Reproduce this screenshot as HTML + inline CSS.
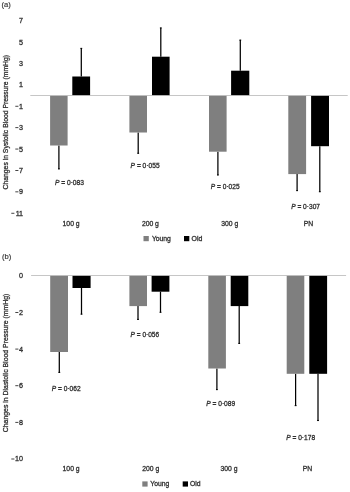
<!DOCTYPE html>
<html><head><meta charset="utf-8"><title>Figure</title>
<style>
html,body{margin:0;padding:0;background:#fff;}
body{width:350px;height:492px;overflow:hidden;}
svg{display:block;filter:grayscale(1);font-family:"Liberation Sans",sans-serif;}
text{stroke:#303030;stroke-width:0.3px;paint-order:stroke fill;}
</style></head><body>
<svg width="350" height="492" viewBox="0 0 350 492">
<rect width="350" height="492" fill="#ffffff"/>
<rect x="30.3" y="95.0" width="317.4" height="1" fill="#c6c6c6"/>
<text x="1.60" y="6.60" font-size="7.6" text-anchor="start" fill="#333" style="stroke-width:0.15px">(a)</text>
<text x="23.10" y="23.10" font-size="7.2" text-anchor="end" fill="#303030" >7</text>
<text x="23.10" y="44.50" font-size="7.2" text-anchor="end" fill="#303030" >5</text>
<text x="23.10" y="65.90" font-size="7.2" text-anchor="end" fill="#303030" >3</text>
<text x="23.10" y="87.30" font-size="7.2" text-anchor="end" fill="#303030" >1</text>
<text x="23.10" y="108.70" font-size="7.2" text-anchor="end" fill="#303030" >1</text>
<rect x="15.30" y="105.80" width="3.1" height="0.9" fill="#303030"/>
<text x="23.10" y="130.10" font-size="7.2" text-anchor="end" fill="#303030" >3</text>
<rect x="15.30" y="127.20" width="3.1" height="0.9" fill="#303030"/>
<text x="23.10" y="151.50" font-size="7.2" text-anchor="end" fill="#303030" >5</text>
<rect x="15.30" y="148.60" width="3.1" height="0.9" fill="#303030"/>
<text x="23.10" y="172.90" font-size="7.2" text-anchor="end" fill="#303030" >7</text>
<rect x="15.30" y="170.00" width="3.1" height="0.9" fill="#303030"/>
<text x="23.10" y="194.30" font-size="7.2" text-anchor="end" fill="#303030" >9</text>
<rect x="15.30" y="191.40" width="3.1" height="0.9" fill="#303030"/>
<text x="23.10" y="215.70" font-size="7.2" text-anchor="end" fill="#303030" >11</text>
<rect x="11.29" y="212.80" width="3.1" height="0.9" fill="#303030"/>
<line x1="58.90" y1="145.50" x2="58.90" y2="168.90" stroke="#000" stroke-width="1.25"/><rect x="58.00" y="168.35" width="1.8" height="1.1" fill="#000"/>
<line x1="81.30" y1="76.50" x2="81.30" y2="48.40" stroke="#000" stroke-width="1.25"/><rect x="80.40" y="47.85" width="1.8" height="1.1" fill="#000"/>
<rect x="50.10" y="95.90" width="17.50" height="49.60" fill="#7f7f7f"/>
<rect x="72.30" y="76.50" width="17.80" height="18.60" fill="#000"/>
<line x1="138.20" y1="132.50" x2="138.20" y2="153.30" stroke="#000" stroke-width="1.25"/><rect x="137.30" y="152.75" width="1.8" height="1.1" fill="#000"/>
<line x1="160.80" y1="56.70" x2="160.80" y2="27.90" stroke="#000" stroke-width="1.25"/><rect x="159.90" y="27.35" width="1.8" height="1.1" fill="#000"/>
<rect x="129.40" y="95.90" width="17.60" height="36.60" fill="#7f7f7f"/>
<rect x="152.00" y="56.70" width="17.60" height="38.40" fill="#000"/>
<line x1="217.90" y1="151.70" x2="217.90" y2="175.00" stroke="#000" stroke-width="1.25"/><rect x="217.00" y="174.45" width="1.8" height="1.1" fill="#000"/>
<line x1="240.30" y1="70.70" x2="240.30" y2="40.10" stroke="#000" stroke-width="1.25"/><rect x="239.40" y="39.55" width="1.8" height="1.1" fill="#000"/>
<rect x="209.00" y="95.90" width="17.60" height="55.80" fill="#7f7f7f"/>
<rect x="231.10" y="70.70" width="18.20" height="24.40" fill="#000"/>
<line x1="297.10" y1="174.10" x2="297.10" y2="190.60" stroke="#000" stroke-width="1.25"/><rect x="296.20" y="190.05" width="1.8" height="1.1" fill="#000"/>
<line x1="319.80" y1="146.20" x2="319.80" y2="191.70" stroke="#000" stroke-width="1.25"/><rect x="318.90" y="191.15" width="1.8" height="1.1" fill="#000"/>
<rect x="288.30" y="95.90" width="17.80" height="78.20" fill="#7f7f7f"/>
<rect x="311.10" y="95.90" width="17.90" height="50.30" fill="#000"/>
<text x="54.90" y="184.85" font-size="6.9" fill="#303030" textLength="29.10" lengthAdjust="spacingAndGlyphs"><tspan font-style="italic">P</tspan> = 0·083</text>
<text x="130.60" y="168.10" font-size="6.9" fill="#303030" textLength="29.00" lengthAdjust="spacingAndGlyphs"><tspan font-style="italic">P</tspan> = 0·055</text>
<text x="210.80" y="189.05" font-size="6.9" fill="#303030" textLength="28.80" lengthAdjust="spacingAndGlyphs"><tspan font-style="italic">P</tspan> = 0·025</text>
<text x="291.20" y="208.70" font-size="6.9" fill="#303030" textLength="28.80" lengthAdjust="spacingAndGlyphs"><tspan font-style="italic">P</tspan> = 0·307</text>
<text x="71.10" y="226.30" font-size="6.8" text-anchor="middle" fill="#303030" >100 g</text>
<text x="150.40" y="226.30" font-size="6.8" text-anchor="middle" fill="#303030" >200 g</text>
<text x="229.70" y="226.30" font-size="6.8" text-anchor="middle" fill="#303030" >300 g</text>
<text x="308.50" y="226.30" font-size="6.8" text-anchor="middle" fill="#303030" >PN</text>
<rect x="143.5" y="236.0" width="5.3" height="5.2" fill="#7f7f7f"/>
<text x="151.90" y="241.10" font-size="6.9" text-anchor="start" fill="#303030" textLength="19.0" lengthAdjust="spacingAndGlyphs">Young</text>
<rect x="184.0" y="236.0" width="5.3" height="5.2" fill="#000"/>
<text x="191.50" y="241.10" font-size="6.9" text-anchor="start" fill="#303030" textLength="10.8" lengthAdjust="spacingAndGlyphs">Old</text>
<text transform="translate(8.3,189.4) rotate(-90)" font-size="7.5" fill="#303030" textLength="134.4" lengthAdjust="spacingAndGlyphs">Changes in Systolic Blood Pressure (mmHg)</text>
<rect x="31.1" y="275.0" width="315.0" height="1" fill="#c6c6c6"/>
<text x="1.90" y="258.70" font-size="7.6" text-anchor="start" fill="#333" style="stroke-width:0.15px">(b)</text>
<text x="23.10" y="278.25" font-size="7.2" text-anchor="end" fill="#303030" >0</text>
<text x="23.10" y="314.89" font-size="7.2" text-anchor="end" fill="#303030" >2</text>
<rect x="15.30" y="311.99" width="3.1" height="0.9" fill="#303030"/>
<text x="23.10" y="351.53" font-size="7.2" text-anchor="end" fill="#303030" >4</text>
<rect x="15.30" y="348.63" width="3.1" height="0.9" fill="#303030"/>
<text x="23.10" y="388.17" font-size="7.2" text-anchor="end" fill="#303030" >6</text>
<rect x="15.30" y="385.27" width="3.1" height="0.9" fill="#303030"/>
<text x="23.10" y="424.81" font-size="7.2" text-anchor="end" fill="#303030" >8</text>
<rect x="15.30" y="421.91" width="3.1" height="0.9" fill="#303030"/>
<text x="23.10" y="461.45" font-size="7.2" text-anchor="end" fill="#303030" >10</text>
<rect x="11.29" y="458.55" width="3.1" height="0.9" fill="#303030"/>
<line x1="59.30" y1="352.00" x2="59.30" y2="372.40" stroke="#000" stroke-width="1.25"/><rect x="58.40" y="371.85" width="1.8" height="1.1" fill="#000"/>
<line x1="81.50" y1="288.00" x2="81.50" y2="314.20" stroke="#000" stroke-width="1.25"/><rect x="80.60" y="313.65" width="1.8" height="1.1" fill="#000"/>
<rect x="50.20" y="275.90" width="17.80" height="76.10" fill="#7f7f7f"/>
<rect x="72.50" y="275.90" width="18.10" height="12.10" fill="#000"/>
<line x1="138.00" y1="306.10" x2="138.00" y2="319.40" stroke="#000" stroke-width="1.25"/><rect x="137.10" y="318.85" width="1.8" height="1.1" fill="#000"/>
<line x1="160.50" y1="291.70" x2="160.50" y2="312.30" stroke="#000" stroke-width="1.25"/><rect x="159.60" y="311.75" width="1.8" height="1.1" fill="#000"/>
<rect x="129.40" y="275.90" width="17.60" height="30.20" fill="#7f7f7f"/>
<rect x="151.60" y="275.90" width="17.80" height="15.80" fill="#000"/>
<line x1="216.90" y1="368.50" x2="216.90" y2="389.60" stroke="#000" stroke-width="1.25"/><rect x="216.00" y="389.05" width="1.8" height="1.1" fill="#000"/>
<line x1="239.20" y1="306.10" x2="239.20" y2="343.40" stroke="#000" stroke-width="1.25"/><rect x="238.30" y="342.85" width="1.8" height="1.1" fill="#000"/>
<rect x="208.30" y="275.90" width="17.60" height="92.60" fill="#7f7f7f"/>
<rect x="230.70" y="275.90" width="17.60" height="30.20" fill="#000"/>
<line x1="295.60" y1="373.80" x2="295.60" y2="405.60" stroke="#000" stroke-width="1.25"/><rect x="294.70" y="405.05" width="1.8" height="1.1" fill="#000"/>
<line x1="318.00" y1="373.80" x2="318.00" y2="420.50" stroke="#000" stroke-width="1.25"/><rect x="317.10" y="419.95" width="1.8" height="1.1" fill="#000"/>
<rect x="286.70" y="275.90" width="17.60" height="97.90" fill="#7f7f7f"/>
<rect x="309.30" y="275.90" width="17.80" height="97.90" fill="#000"/>
<text x="51.70" y="391.10" font-size="6.9" fill="#303030" textLength="28.90" lengthAdjust="spacingAndGlyphs"><tspan font-style="italic">P</tspan> = 0·062</text>
<text x="130.60" y="337.40" font-size="6.9" fill="#303030" textLength="28.50" lengthAdjust="spacingAndGlyphs"><tspan font-style="italic">P</tspan> = 0·056</text>
<text x="206.20" y="405.60" font-size="6.9" fill="#303030" textLength="29.00" lengthAdjust="spacingAndGlyphs"><tspan font-style="italic">P</tspan> = 0·089</text>
<text x="286.20" y="439.80" font-size="6.9" fill="#303030" textLength="28.90" lengthAdjust="spacingAndGlyphs"><tspan font-style="italic">P</tspan> = 0·178</text>
<text x="71.10" y="471.20" font-size="6.8" text-anchor="middle" fill="#303030" >100 g</text>
<text x="150.70" y="471.20" font-size="6.8" text-anchor="middle" fill="#303030" >200 g</text>
<text x="229.00" y="471.20" font-size="6.8" text-anchor="middle" fill="#303030" >300 g</text>
<text x="307.50" y="471.20" font-size="6.8" text-anchor="middle" fill="#303030" >PN</text>
<rect x="142.3" y="481.4" width="5.3" height="5.2" fill="#7f7f7f"/>
<text x="150.30" y="486.40" font-size="6.9" text-anchor="start" fill="#303030" textLength="19.0" lengthAdjust="spacingAndGlyphs">Young</text>
<rect x="182.7" y="481.4" width="5.3" height="5.2" fill="#000"/>
<text x="190.00" y="486.40" font-size="6.9" text-anchor="start" fill="#303030" textLength="10.6" lengthAdjust="spacingAndGlyphs">Old</text>
<text transform="translate(8.3,432.2) rotate(-90)" font-size="7.5" fill="#303030" textLength="138.6" lengthAdjust="spacingAndGlyphs">Changes in Diastolic Blood Pressure (mmHg)</text>
</svg>
</body></html>
